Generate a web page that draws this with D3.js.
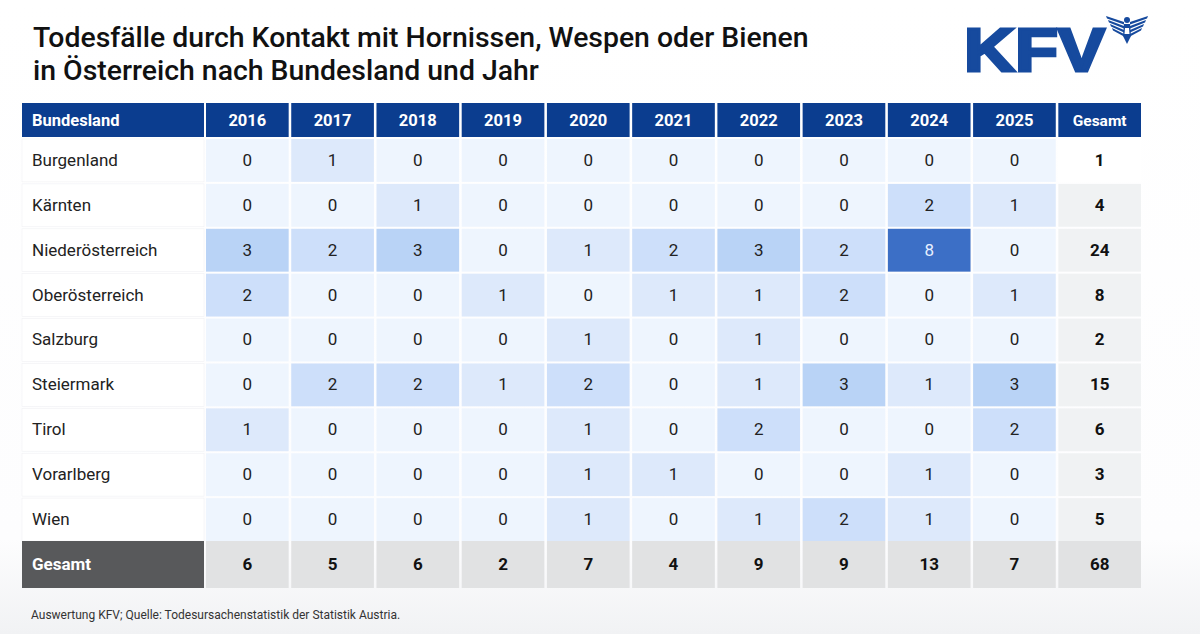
<!DOCTYPE html>
<html>
<head>
<meta charset="utf-8">
<script src="https://cdn.jsdelivr.net/npm/d3@7"></script>
<style>
  html, body { margin:0; padding:0; background:#fff; }
  svg { display:block; font-family: Roboto, "Noto Sans", sans-serif; }
</style>
</head>
<body>
<div id="chart"></div>
<script>
// data
const years = ["2016","2017","2018","2019","2020","2021","2022","2023","2024","2025"]
const states = ["Burgenland","Kärnten","Niederösterreich","Oberösterreich","Salzburg","Steiermark","Tirol","Vorarlberg","Wien"]
const burgenland       = [0,1,0,0,0,0,0,0,0,0]
const kaernten         = [0,0,1,0,0,0,0,0,2,1]
const niederoesterreich= [3,2,3,0,1,2,3,2,8,0]
const oberoesterreich  = [2,0,0,1,0,1,1,2,0,1]
const salzburg         = [0,0,0,0,1,0,1,0,0,0]
const steiermark       = [0,2,2,1,2,0,1,3,1,3]
const tirol            = [1,0,0,0,1,0,2,0,0,2]
const vorarlberg       = [0,0,0,0,1,1,0,0,1,0]
const wien             = [0,0,0,0,1,0,1,2,1,0]
const rowTotals  = [1,4,24,8,2,15,6,3,5]
const yearTotals = [6,5,6,2,7,4,9,9,13,7]
const grandTotal = 68

const values = [burgenland,kaernten,niederoesterreich,oberoesterreich,salzburg,steiermark,tirol,vorarlberg,wien]

function render(){
  let width = 1200, height = 634
  let svg = d3.select("#chart").append("svg")
    .attr("width",width).attr("height",height)
    .attr("viewBox",`0 0 ${width} ${height}`)

  // soft background fade at the bottom
  let defs = svg.append("defs")
  let grad = defs.append("linearGradient").attr("id","bg").attr("x1",0).attr("y1",0).attr("x2",0).attr("y2",1)
  grad.append("stop").attr("offset","0%").attr("stop-color","#ffffff")
  grad.append("stop").attr("offset","85%").attr("stop-color","#fdfdfe")
  grad.append("stop").attr("offset","100%").attr("stop-color","#f1f2f4")
  svg.append("rect").attr("width",width).attr("height",height).attr("fill","url(#bg)")

  // title
  let title = svg.append("text").attr("x",33).attr("y",47)
    .attr("font-size",28.4).attr("font-weight",500).attr("fill","#111")
  title.append("tspan").attr("x",33).attr("dy",0).text("Todesfälle durch Kontakt mit Hornissen, Wespen oder Bienen")
  title.append("tspan").attr("x",33).attr("dy",33).text("in Österreich nach Bundesland und Jahr")

  // logo
  let logo = svg.append("g")
  logo.append("text").attr("x",964).attr("y",71)
    .attr("font-family","'Liberation Sans', Arial, sans-serif")
    .attr("font-weight",700).attr("font-size",62).attr("fill","#164a9e")
    .attr("stroke","#164a9e").attr("stroke-width",3).attr("stroke-linejoin","miter")
    .attr("textLength",141).attr("lengthAdjust","spacingAndGlyphs")
    .text("KFV")
  // simplified eagle emblem
  let eg = logo.append("g").attr("transform","translate(1127,30)").attr("fill","#164a9e")
  ;[-1,1].forEach(s=>{
    for(let i=0;i<4;i++){
      eg.append("path").attr("d",
        `M ${s*3} ${-8+i*4} L ${s*(21-i*2)} ${-14+i*4} L ${s*(20-i*2)} ${-11.5+i*4} L ${s*3} ${-5.5+i*4} Z`)
    }
  })
  eg.append("circle").attr("cx",0).attr("cy",-10).attr("r",3)
  eg.append("path").attr("d","M -3 -6 L 3 -6 L 4 6 L 0 14 L -4 6 Z")
  eg.append("path").attr("d","M -2 -2 L 2 -2 L 2.5 4 L -2.5 4 Z").attr("fill","#fff")

  // table scales
  let tableLeft = 22, nameRight = 206, tableRight = 1141
  let headTop = 103, headBottom = 138, bodyBottom = 540, totalBottom = 588
  let cols = years.concat(["Gesamt"])
  let xScale = d3.scaleBand().domain(cols).range([nameRight,tableRight]).paddingInner(0.03)
  let yScale = d3.scaleBand().domain(states).range([headBottom,bodyBottom]).paddingInner(0.045)
  let gap = 2

  let color = d3.scaleLinear().domain([0,1,2,3,8])
    .range(["#eef5fe","#dde9fb","#cddffa","#b9d3f6","#3c6fc6"])
    .interpolate(d3.interpolateRgb)

  let g = svg.append("g")

  // header
  g.append("rect").attr("x",tableLeft).attr("y",headTop)
    .attr("width",nameRight-tableLeft-gap).attr("height",headBottom-headTop-gap/2).attr("fill","#0b3d8f")
  g.append("text").attr("x",tableLeft+10).attr("y",(headTop+headBottom)/2+1)
    .attr("dominant-baseline","middle").attr("font-size",16.5).attr("font-weight",700)
    .attr("fill","#fff").text("Bundesland")
  g.selectAll(".hcell").data(cols).enter().append("rect")
    .attr("x",d=>xScale(d)).attr("y",headTop)
    .attr("width",xScale.bandwidth()).attr("height",headBottom-headTop-gap/2)
    .attr("fill","#0b3d8f")
  g.selectAll(".htext").data(cols).enter().append("text")
    .attr("x",d=>xScale(d)+xScale.bandwidth()/2).attr("y",(headTop+headBottom)/2+1)
    .attr("text-anchor","middle").attr("dominant-baseline","middle")
    .attr("font-size",d=>d=="Gesamt"?15.5:16.5).attr("font-weight",700).attr("fill","#fff")
    .text(d=>d)

  // body rows
  let rows = g.selectAll(".row").data(states).enter().append("g")
    .attr("transform",d=>`translate(0,${yScale(d)+gap/2})`)
  let rh = yScale.bandwidth()

  rows.append("rect").attr("x",tableLeft).attr("width",nameRight-tableLeft-gap).attr("height",rh)
    .attr("fill","#ffffff").attr("stroke","#f0f1f4").attr("stroke-width",0.6)
  rows.append("text").attr("x",tableLeft+10).attr("y",rh/2+1)
    .attr("dominant-baseline","middle").attr("font-size",17).attr("fill","#222")
    .text(d=>d)

  rows.each(function(s,i){
    let r = d3.select(this)
    let vals = values[i]
    r.selectAll(".cell").data(vals).enter().append("rect")
      .attr("x",(v,j)=>xScale(years[j])).attr("width",xScale.bandwidth()).attr("height",rh)
      .attr("fill",v=>color(v))
    r.selectAll(".val").data(vals).enter().append("text")
      .attr("x",(v,j)=>xScale(years[j])+xScale.bandwidth()/2).attr("y",rh/2+1)
      .attr("text-anchor","middle").attr("dominant-baseline","middle")
      .attr("font-size",17).attr("fill",v=>v>=6?"#e8f0ff":"#222")
      .text(v=>v)
    r.append("rect").attr("x",xScale("Gesamt")).attr("width",xScale.bandwidth()).attr("height",rh)
      .attr("fill",i==0?"#ffffff":"#f0f2f3")
    r.append("text").attr("x",xScale("Gesamt")+xScale.bandwidth()/2).attr("y",rh/2+1)
      .attr("text-anchor","middle").attr("dominant-baseline","middle")
      .attr("font-size",17).attr("font-weight",700).attr("fill","#111")
      .text(rowTotals[i])
  })

  // totals row
  let ty = bodyBottom+gap/2, th = totalBottom-bodyBottom-gap/2
  g.append("rect").attr("x",tableLeft).attr("y",ty).attr("width",nameRight-tableLeft-gap).attr("height",th)
    .attr("fill","#58595b")
  g.append("text").attr("x",tableLeft+10).attr("y",ty+th/2+1)
    .attr("dominant-baseline","middle").attr("font-size",17).attr("font-weight",700)
    .attr("fill","#fff").text("Gesamt")
  let totals = yearTotals.concat([grandTotal])
  g.selectAll(".tcell").data(totals).enter().append("rect")
    .attr("x",(v,j)=>xScale(cols[j])).attr("y",ty).attr("width",xScale.bandwidth()).attr("height",th)
    .attr("fill","#e1e2e3")
  g.selectAll(".ttext").data(totals).enter().append("text")
    .attr("x",(v,j)=>xScale(cols[j])+xScale.bandwidth()/2).attr("y",ty+th/2+1)
    .attr("text-anchor","middle").attr("dominant-baseline","middle")
    .attr("font-size",17).attr("font-weight",700).attr("fill","#111")
    .text(v=>v)

  // footer
  svg.append("text").attr("x",31).attr("y",619).attr("font-size",12).attr("fill","#333")
    .text("Auswertung KFV; Quelle: Todesursachenstatistik der Statistik Austria.")
}

render()
</script>
</body>
</html>
